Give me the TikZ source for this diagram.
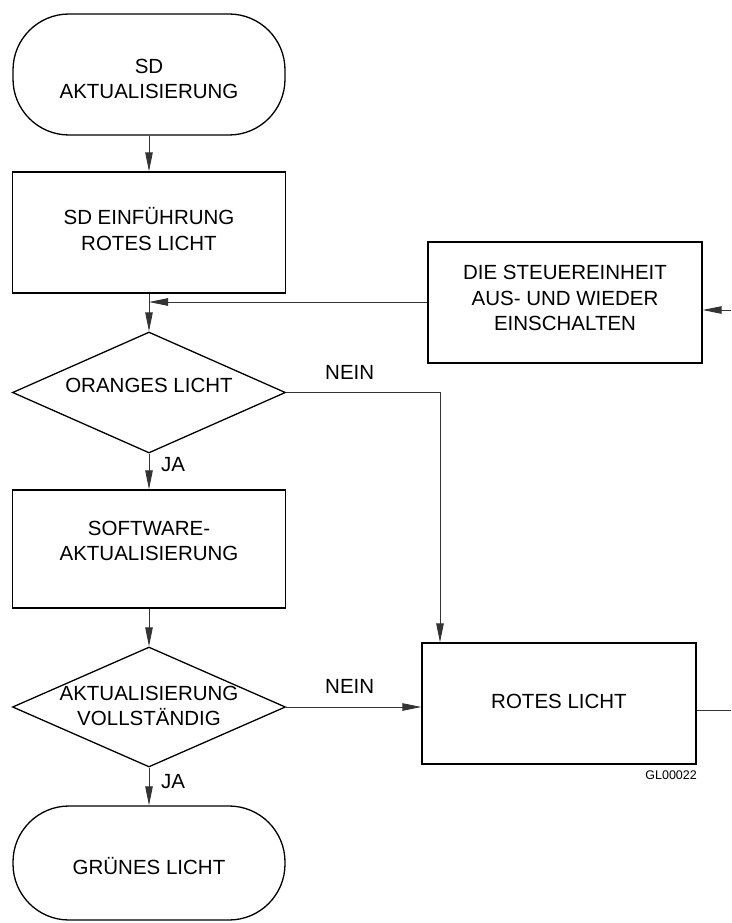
\documentclass[tikz,border=0pt]{standalone}
\usepackage{fontspec}
\setmainfont{Liberation Sans}
\usetikzlibrary{shapes.geometric,arrows.meta}
\begin{document}
\begin{tikzpicture}[x=1pt,y=-1pt,
  every node/.style={font=\fontsize{20.5}{25.5}\selectfont, align=center, inner sep=0pt},
  box/.style={draw, line width=1.3pt, rectangle, minimum width=273pt, minimum height=121pt},
  term/.style={draw, line width=1.3pt, rectangle, rounded corners=56pt, minimum width=272pt, minimum height=121pt},
  dia/.style={draw, line width=1.3pt, diamond, minimum width=273pt, minimum height=121pt},
  conn/.style={line width=0.9pt, draw=black!80},
  arr/.style={conn, -{Triangle[length=19pt,width=7.5pt]}},
  lbl/.style={anchor=base west}]
\useasboundingbox (0,0) rectangle (731,923);
\node[term] (t1) at (149,74.5) {};
\node (t1t) at (149,79) {SD\\AKTUALISIERUNG};
\node[box] (b1) at (149,232.5) {};
\node (b1t) at (149,229) {SD EINFÜHRUNG\\ROTES LICHT};
\node[dia] (d1) at (149,392.5) {};
\node (d1t) at (149,385) {ORANGES LICHT};
\node[box, minimum height=118pt] (b2) at (149,549) {};
\node (b2t) at (149,541) {SOFTWARE-\\AKTUALISIERUNG};
\node[dia, minimum height=120pt] (d2) at (149,707) {};
\node (d2t) at (149,706) {AKTUALISIERUNG\\VOLLSTÄNDIG};
\node[term, minimum height=114pt] (t2) at (149,863) {};
\node (t2t) at (149,866) {GRÜNES LICHT};
\node[box, minimum width=274pt] (st) at (565,302.5) {};
\node (stt) at (565,298) {DIE STEUEREINHEIT\\AUS- UND WIEDER\\EINSCHALTEN};
\node[box, minimum width=274pt] (ro) at (559,703.5) {};
\node (rot) at (559,701) {ROTES LICHT};
\node[anchor=base east, font=\fontsize{12.5}{14}\selectfont] (gl) at (697,779) {GL00022};
\coordinate (jn) at (149,302);
\coordinate (rs) at (731,310);
\coordinate (rr) at (731,710);
\coordinate (nb) at (440,392.5);
% connectors
\draw[arr] (t1) -- (b1);
\draw[arr] (b1) -- (d1);
\draw[arr] (st.west |- jn) -- (jn);
\draw[arr] (d1) -- (b2);
\draw[arr] (b2) -- (d2);
\draw[arr] (d2) -- (t2);
\draw[arr] (d1.east) -- (nb) -- (nb |- ro.north);
\draw[arr] (d2.east) -- (d2.east -| ro.west);
\draw[conn] (ro.east |- rr) -- (rr);
\draw[arr] (rs) -- (rs -| st.east);
% labels
\node[lbl] (n1) at (325,379) {NEIN};
\node[lbl] (n2) at (325,693) {NEIN};
\node[lbl] (j1) at (161,471) {JA};
\node[lbl] (j2) at (161,788) {JA};
\end{tikzpicture}
\end{document}
